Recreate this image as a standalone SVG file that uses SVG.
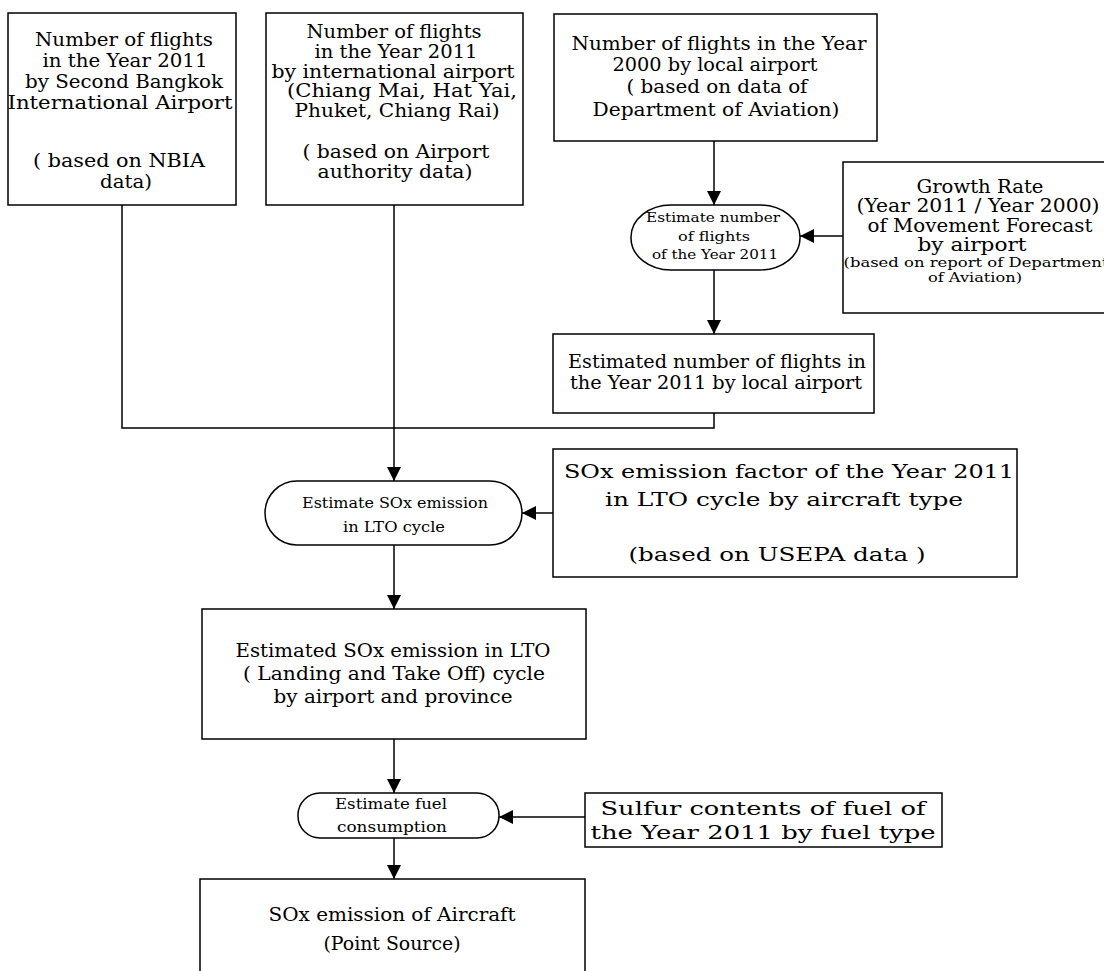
<svg xmlns="http://www.w3.org/2000/svg" width="1104" height="971" viewBox="0 0 1104 971">
  <style>
    .box { fill: #fff; stroke: #000; stroke-width: 1.5; }
    text { font-family: "DejaVu Serif", "Liberation Serif", serif; fill: #000; text-anchor: middle; }
    .t { font-size: 18px; }
    .s { font-size: 13px; }
    .xs { font-size: 14px; }
    .ln { fill: none; stroke: #000; stroke-width: 1.5; }
  </style>
  <defs>
    <marker id="arr" markerUnits="userSpaceOnUse" markerWidth="14" markerHeight="14" viewBox="0 0 14 14" refX="14" refY="7" orient="auto">
      <path d="M0,0 L14,7 L0,14 Z" fill="#000"/>
    </marker>
  </defs>
  <rect width="1104" height="971" fill="#fff"/>

  <!-- connectors -->
  <g id="connectors">
    <line class="ln" x1="714" y1="141" x2="714" y2="205" marker-end="url(#arr)"/>
    <line class="ln" x1="843" y1="236" x2="800" y2="236" marker-end="url(#arr)"/>
    <line class="ln" x1="714" y1="270" x2="714" y2="334" marker-end="url(#arr)"/>
    <polyline class="ln" points="122,205 122,428 714,428 714,413"/>
    <line class="ln" x1="394" y1="205" x2="394" y2="481" marker-end="url(#arr)"/>
    <line class="ln" x1="553" y1="513" x2="522" y2="513" marker-end="url(#arr)"/>
    <line class="ln" x1="394" y1="545" x2="394" y2="609" marker-end="url(#arr)"/>
    <line class="ln" x1="394" y1="739" x2="394" y2="793" marker-end="url(#arr)"/>
    <line class="ln" x1="585" y1="817" x2="499" y2="817" marker-end="url(#arr)"/>
    <line class="ln" x1="394" y1="838" x2="394" y2="879" marker-end="url(#arr)"/>
  </g>

  <g id="bangkok">
    <rect class="box" x="8" y="13" width="228" height="192"/>
    <text class="t" x="124" y="46" textLength="178" lengthAdjust="spacingAndGlyphs">Number of flights</text>
    <text class="t" x="125" y="67" textLength="165" lengthAdjust="spacingAndGlyphs">in the Year 2011</text>
    <text class="t" x="124" y="88" textLength="198" lengthAdjust="spacingAndGlyphs">by Second Bangkok</text>
    <text class="t" x="120" y="109" textLength="225" lengthAdjust="spacingAndGlyphs">International Airport</text>
    <text class="t" x="119" y="167" textLength="172" lengthAdjust="spacingAndGlyphs">( based on NBIA</text>
    <text class="t" x="126" y="188" textLength="52" lengthAdjust="spacingAndGlyphs">data)</text>
  </g>

  <g id="international">
    <rect class="box" x="266" y="13" width="257" height="192"/>
    <text class="t" x="394" y="38" textLength="175" lengthAdjust="spacingAndGlyphs">Number of flights</text>
    <text class="t" x="396" y="58" textLength="163" lengthAdjust="spacingAndGlyphs">in the Year 2011</text>
    <text class="t" x="393" y="78" textLength="243" lengthAdjust="spacingAndGlyphs">by international airport</text>
    <text class="t" x="402" y="97" textLength="230" lengthAdjust="spacingAndGlyphs">(Chiang Mai, Hat Yai,</text>
    <text class="t" x="397" y="117" textLength="205" lengthAdjust="spacingAndGlyphs">Phuket, Chiang Rai)</text>
    <text class="t" x="396" y="158" textLength="187" lengthAdjust="spacingAndGlyphs">( based on Airport</text>
    <text class="t" x="395" y="178" textLength="155" lengthAdjust="spacingAndGlyphs">authority data)</text>
  </g>

  <g id="local2000">
    <rect class="box" x="554" y="14" width="323" height="127"/>
    <text class="t" x="719" y="50" textLength="295" lengthAdjust="spacingAndGlyphs">Number of flights in the Year</text>
    <text class="t" x="715" y="71" textLength="205" lengthAdjust="spacingAndGlyphs">2000 by local airport</text>
    <text class="t" x="717" y="93" textLength="181" lengthAdjust="spacingAndGlyphs">( based on data of</text>
    <text class="t" x="716" y="116" textLength="247" lengthAdjust="spacingAndGlyphs">Department of Aviation)</text>
  </g>

  <g id="growth">
    <rect class="box" x="843" y="162" width="270" height="151"/>
    <text class="t" x="980" y="193" textLength="127" lengthAdjust="spacingAndGlyphs">Growth Rate</text>
    <text class="t" x="978" y="212" textLength="243" lengthAdjust="spacingAndGlyphs">(Year 2011 / Year 2000)</text>
    <text class="t" x="980" y="232" textLength="225" lengthAdjust="spacingAndGlyphs">of Movement Forecast</text>
    <text class="t" x="972" y="251" textLength="109" lengthAdjust="spacingAndGlyphs">by airport</text>
    <text class="s" x="976" y="267" textLength="265" lengthAdjust="spacingAndGlyphs">(based on report of Department</text>
    <text class="s" x="975" y="282" textLength="94" lengthAdjust="spacingAndGlyphs">of Aviation)</text>
  </g>

  <g id="estimateFlights">
    <rect class="box" x="631" y="205" width="169" height="65" rx="40" ry="32"/>
    <text class="s" x="713" y="222" textLength="134" lengthAdjust="spacingAndGlyphs">Estimate number</text>
    <text class="s" x="714" y="241" textLength="72" lengthAdjust="spacingAndGlyphs">of flights</text>
    <text class="s" x="715" y="259" textLength="126" lengthAdjust="spacingAndGlyphs">of the Year 2011</text>
  </g>

  <g id="localEstimated">
    <rect class="box" x="553" y="334" width="321" height="79"/>
    <text class="t" x="717" y="368" textLength="298" lengthAdjust="spacingAndGlyphs">Estimated number of flights in</text>
    <text class="t" x="716" y="389" textLength="292" lengthAdjust="spacingAndGlyphs">the Year 2011 by local airport</text>
  </g>

  <g id="estimateSOx">
    <rect class="box" x="265" y="481" width="257" height="64" rx="32" ry="32"/>
    <text class="xs" x="395" y="508" textLength="186" lengthAdjust="spacingAndGlyphs">Estimate SOx emission</text>
    <text class="xs" x="394" y="532" textLength="102" lengthAdjust="spacingAndGlyphs">in LTO cycle</text>
  </g>

  <g id="factor">
    <rect class="box" x="553" y="449" width="464" height="128"/>
    <text class="t" x="789" y="478" textLength="450" lengthAdjust="spacingAndGlyphs">SOx emission factor of the Year 2011</text>
    <text class="t" x="784" y="506" textLength="358" lengthAdjust="spacingAndGlyphs">in LTO cycle by aircraft type</text>
    <text class="t" x="777" y="561" textLength="297" lengthAdjust="spacingAndGlyphs">(based on USEPA data )</text>
  </g>

  <g id="lto">
    <rect class="box" x="202" y="609" width="384" height="130"/>
    <text class="t" x="393" y="657" textLength="315" lengthAdjust="spacingAndGlyphs">Estimated SOx emission in LTO</text>
    <text class="t" x="394" y="680" textLength="302" lengthAdjust="spacingAndGlyphs">( Landing and Take Off) cycle</text>
    <text class="t" x="393" y="703" textLength="239" lengthAdjust="spacingAndGlyphs">by airport and province</text>
  </g>

  <g id="estimateFuel">
    <rect class="box" x="298" y="793" width="201" height="45" rx="22" ry="22"/>
    <text class="xs" x="391" y="809" textLength="112" lengthAdjust="spacingAndGlyphs">Estimate fuel</text>
    <text class="xs" x="392" y="832" textLength="110" lengthAdjust="spacingAndGlyphs">consumption</text>
  </g>

  <g id="sulfur">
    <rect class="box" x="585" y="793" width="357" height="54"/>
    <text class="t" x="763" y="815" textLength="325" lengthAdjust="spacingAndGlyphs">Sulfur contents of fuel of</text>
    <text class="t" x="763" y="839" textLength="345" lengthAdjust="spacingAndGlyphs">the Year 2011 by fuel type</text>
  </g>

  <g id="aircraft">
    <rect class="box" x="200" y="879" width="385" height="100"/>
    <text class="t" x="392" y="921" textLength="247" lengthAdjust="spacingAndGlyphs">SOx emission of Aircraft</text>
    <text class="t" x="392" y="950" textLength="137" lengthAdjust="spacingAndGlyphs">(Point Source)</text>
  </g>
</svg>
